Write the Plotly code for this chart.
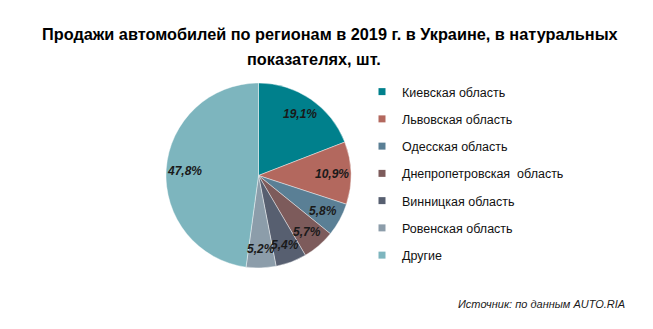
import math
import plotly.graph_objects as go

regions = ["Киевская область", "Львовская область", "Одесская область",
           "Днепропетровская  область", "Винницкая область", "Ровенская область", "Другие"]
shares = [19.1, 10.9, 5.8, 5.7, 5.4, 5.2, 47.8]
colors = ["#00808C", "#B3685E", "#5A7F95", "#7D5B5B", "#575F70", "#8C9DAA", "#7DB5BE"]

title_lines = ["Продажи автомобилей по регионам в 2019 г. в Украине, в натуральных",
               "показателях, шт."]
source = "Источник: по данным AUTO.RIA"

W, H = 653, 329
CX, CY, R = 258.5, 175.5, 92.5
LABEL_R = 0.8

labels_txt = [f"{v:.1f}%".replace(".", ",") for v in shares]

fig = go.Figure()
fig.add_trace(go.Pie(
    labels=regions, values=shares, sort=False, direction="clockwise", rotation=0,
    marker=dict(colors=colors, line=dict(color="rgba(255,255,255,0.6)", width=0.7)),
    textinfo="none", showlegend=False, hoverinfo="label+percent",
    domain=dict(x=[(CX - R) / W, (CX + R) / W], y=[1 - (CY + R) / H, 1 - (CY - R) / H]),
))

for i, (r, c) in enumerate(zip(regions, colors)):
    fig.add_trace(go.Scatter(
        x=[None], y=[None], mode="markers", name=r, legendgroup=f"g{i}",
        marker=dict(symbol="square", size=7, color=c), showlegend=True,
    ))

annotations = []
total = sum(shares)
cum = 0.0
for v, t in zip(shares, labels_txt):
    mid = (cum + v / 2) / total * 2 * math.pi
    cum += v
    px = CX + LABEL_R * R * math.sin(mid)
    py = CY - LABEL_R * R * math.cos(mid)
    annotations.append(dict(
        text=t, x=px / W, y=1 - py / H, xref="paper", yref="paper",
        xanchor="center", yanchor="middle", showarrow=False,
        font=dict(family="Liberation Sans", size=12, color="#1a1a1a", weight="bold", style="italic"),
    ))

annotations += [
    dict(text=f"<b>{title_lines[0]}</b>", x=330 / W, y=1 - 34 / H, xref="paper", yref="paper",
         xanchor="center", yanchor="middle", showarrow=False,
         font=dict(family="Liberation Sans", size=16.3, color="#000000")),
    dict(text=f"<b>{title_lines[1]}</b>", x=314 / W, y=1 - 59 / H, xref="paper", yref="paper",
         xanchor="center", yanchor="middle", showarrow=False,
         font=dict(family="Liberation Sans", size=16.3, color="#000000")),
    dict(text=f"<i>{source}</i>", x=627 / W, y=1 - 304 / H, xref="paper", yref="paper",
         xanchor="right", yanchor="middle", showarrow=False,
         font=dict(family="Liberation Sans", size=11, color="#1a1a1a")),
]

fig.update_layout(
    width=W, height=H, margin=dict(l=0, r=0, t=0, b=0),
    paper_bgcolor="white", plot_bgcolor="white",
    xaxis=dict(visible=False), yaxis=dict(visible=False),
    legend=dict(x=362 / W, y=1 - 77 / H, xanchor="left", yanchor="top",
                font=dict(family="Liberation Sans", size=12.5, color="#111111"),
                tracegroupgap=8, itemwidth=30, bgcolor="rgba(0,0,0,0)"),
    annotations=annotations,
)

fig.write_html("out.html")
